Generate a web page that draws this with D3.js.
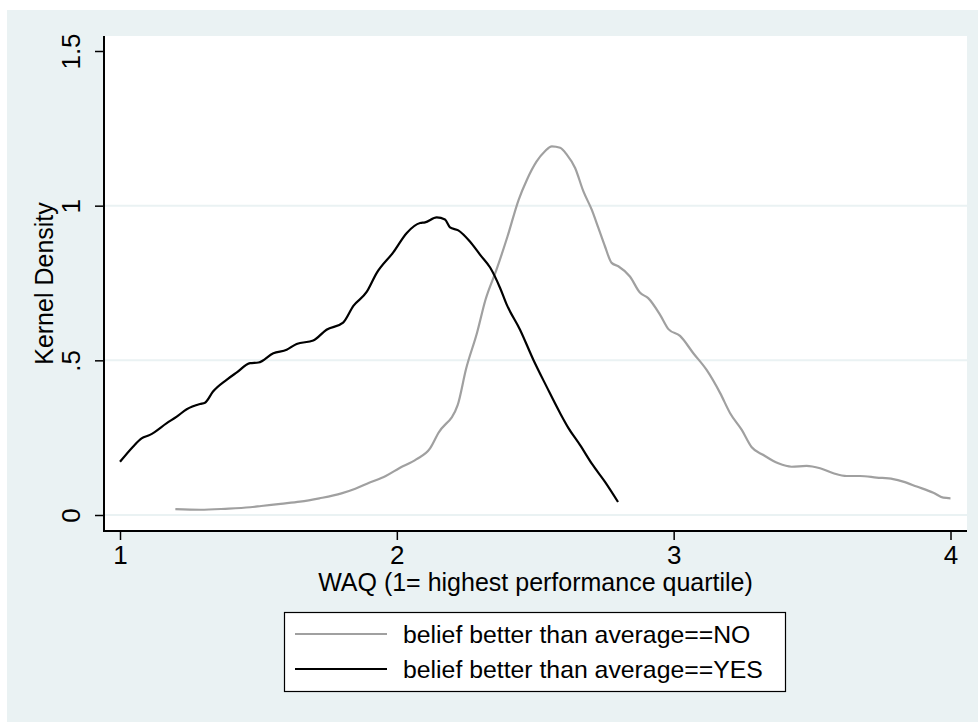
<!DOCTYPE html>
<html>
<head>
<meta charset="utf-8">
<script src="https://cdn.jsdelivr.net/npm/d3@7"></script>
<style>
  body { margin: 0; background: #fff; }
  text { font-family: Arial, "Liberation Sans", Helvetica, sans-serif; fill: #000; }
</style>
</head>
<body>
<svg id="chart" width="978" height="722"></svg>
<script>
// kernel density, belief better than average == NO (gray)
var noX = [1.20, 1.29, 1.38, 1.47, 1.51, 1.58, 1.65, 1.72, 1.80, 1.85, 1.90, 1.96, 2.01, 2.07, 2.12, 2.15, 2.22,
  2.25, 2.29, 2.32, 2.36, 2.40, 2.44, 2.47, 2.505, 2.535, 2.56, 2.59, 2.614, 2.644, 2.674, 2.704, 2.728, 2.752,
  2.776, 2.80, 2.842, 2.878, 2.908, 2.951, 2.981, 3.023, 3.071, 3.119, 3.168, 3.204, 3.246, 3.282, 3.324, 3.378,
  3.426, 3.48, 3.529, 3.577, 3.625, 3.673, 3.733, 3.793, 3.829, 3.878, 3.938, 3.974, 4.0];
var noY = [0.019, 0.017, 0.020, 0.025, 0.029, 0.036, 0.043, 0.054, 0.070, 0.085, 0.104, 0.126, 0.152, 0.180, 0.215, 0.265, 0.356,
  0.472, 0.590, 0.695, 0.793, 0.901, 1.019, 1.084, 1.143, 1.176, 1.192, 1.187, 1.165, 1.122, 1.046, 0.987, 0.928, 0.868,
  0.815, 0.804, 0.771, 0.719, 0.701, 0.647, 0.601, 0.579, 0.523, 0.469, 0.394, 0.329, 0.275, 0.219, 0.194, 0.167,
  0.156, 0.159, 0.151, 0.135, 0.126, 0.126, 0.121, 0.116, 0.108, 0.092, 0.072, 0.056, 0.054];

// kernel density, belief better than average == YES (black)
var yesX = [1.0, 1.047, 1.078, 1.108, 1.169, 1.205, 1.241, 1.289, 1.307, 1.336, 1.385, 1.422, 1.47, 1.50, 1.554,
  1.602, 1.638, 1.698, 1.746, 1.806, 1.843, 1.891, 1.927, 1.987, 2.036, 2.084, 2.102, 2.144, 2.174, 2.192, 2.222,
  2.264, 2.301, 2.337, 2.373, 2.397, 2.445, 2.493, 2.541, 2.59, 2.62, 2.662, 2.705, 2.752, 2.799];
var yesY = [0.172, 0.221, 0.248, 0.259, 0.297, 0.318, 0.342, 0.359, 0.363, 0.399, 0.437, 0.461, 0.491, 0.493, 0.523,
  0.534, 0.553, 0.564, 0.599, 0.622, 0.676, 0.721, 0.782, 0.849, 0.912, 0.944, 0.946, 0.962, 0.955, 0.930, 0.920,
  0.884, 0.841, 0.800, 0.734, 0.680, 0.599, 0.502, 0.415, 0.329, 0.281, 0.226, 0.165, 0.107, 0.042];

var xTicks = [1, 2, 3, 4];
var yTicks = [0, 0.5, 1, 1.5];
var yTickLabels = ["0", ".5", "1", "1.5"];
var gridValues = [0, 0.5, 1];

var seriesNames = ["belief better than average==NO", "belief better than average==YES"];
var seriesColors = ["#a0a0a0", "#000000"];

var svg = d3.select("#chart");
var bg = "#eaf2f3";

// plot region bounds
var plotLeft = 104, plotRight = 967, plotTop = 36, plotBottom = 531;

var x = d3.scaleLinear().domain([1, 4]).range([120, 950.5]);
var y = d3.scaleLinear().domain([0, 1.5]).range([515, 51]);

svg.append("rect")
  .attr("x", 7).attr("y", 10)
  .attr("width", 971).attr("height", 712)
  .attr("fill", bg);

svg.append("rect")
  .attr("x", plotLeft).attr("y", plotTop)
  .attr("width", plotRight - plotLeft).attr("height", plotBottom - plotTop)
  .attr("fill", "#fff");

// grid lines
svg.selectAll("line.grid")
  .data(gridValues)
  .enter()
  .append("line")
  .attr("class", "grid")
  .attr("x1", plotLeft).attr("x2", plotRight)
  .attr("y1", function(d) { return y(d); })
  .attr("y2", function(d) { return y(d); })
  .attr("stroke", bg)
  .attr("stroke-width", 2);

// curves
var line = d3.line()
  .curve(d3.curveMonotoneX)
  .x(function(d) { return x(d[0]); })
  .y(function(d) { return y(d[1]); });

var noData = noX.map(function(v, i) { return [v, noY[i]]; });
var yesData = yesX.map(function(v, i) { return [v, yesY[i]]; });

svg.append("path")
  .datum(noData)
  .attr("d", line)
  .attr("fill", "none")
  .attr("stroke", seriesColors[0])
  .attr("stroke-width", 2.2)
  .attr("stroke-linejoin", "round");

svg.append("path")
  .datum(yesData)
  .attr("d", line)
  .attr("fill", "none")
  .attr("stroke", seriesColors[1])
  .attr("stroke-width", 2.2)
  .attr("stroke-linejoin", "round");

// axes
var yAxis = d3.axisLeft(y)
  .tickValues(yTicks)
  .tickSize(9)
  .tickFormat(function(d, i) { return yTickLabels[i]; });

var gy = svg.append("g")
  .attr("transform", "translate(" + plotLeft + ",0)")
  .call(yAxis);
gy.select(".domain").remove();
gy.selectAll(".tick line").attr("stroke", "#000").attr("stroke-width", 1.5);
gy.selectAll(".tick text")
  .attr("x", null).attr("dy", null)
  .attr("transform", "translate(-24,0) rotate(-90)")
  .attr("text-anchor", "middle")
  .style("font-size", "26px")
  .style("font-family", "Arial, 'Liberation Sans', sans-serif");

var xAxis = d3.axisBottom(x)
  .tickValues(xTicks)
  .tickSize(9)
  .tickFormat(d3.format("d"));

var gx = svg.append("g")
  .attr("transform", "translate(0," + plotBottom + ")")
  .call(xAxis);
gx.select(".domain").remove();
gx.selectAll(".tick line").attr("stroke", "#000").attr("stroke-width", 1.5);
gx.selectAll(".tick text")
  .attr("dy", null)
  .attr("y", 33)
  .style("font-size", "26px")
  .style("font-family", "Arial, 'Liberation Sans', sans-serif");

svg.append("line")
  .attr("x1", plotLeft).attr("x2", plotLeft)
  .attr("y1", plotTop).attr("y2", plotBottom + 1)
  .attr("stroke", "#000").attr("stroke-width", 2);
svg.append("line")
  .attr("x1", plotLeft - 1).attr("x2", plotRight)
  .attr("y1", plotBottom).attr("y2", plotBottom)
  .attr("stroke", "#000").attr("stroke-width", 2);

// axis titles
svg.append("text")
  .attr("x", (plotLeft + plotRight) / 2)
  .attr("y", 591)
  .attr("text-anchor", "middle")
  .style("font-size", "25px")
  .text("WAQ (1= highest performance quartile)");

svg.append("text")
  .attr("transform", "translate(53," + ((plotTop + plotBottom) / 2) + ") rotate(-90)")
  .attr("text-anchor", "middle")
  .style("font-size", "25px")
  .text("Kernel Density");

// legend
var legend = svg.append("g");
legend.append("rect")
  .attr("x", 284.5).attr("y", 612.5)
  .attr("width", 501).attr("height", 79)
  .attr("fill", "#fff")
  .attr("stroke", "#000")
  .attr("stroke-width", 1.2);

var items = legend.selectAll("g.item")
  .data(seriesNames)
  .enter()
  .append("g")
  .attr("class", "item")
  .attr("transform", function(d, i) { return "translate(0," + (634 + i * 35) + ")"; });

items.append("line")
  .attr("x1", 295).attr("x2", 387)
  .attr("y1", 0).attr("y2", 0)
  .attr("stroke", function(d, i) { return seriesColors[i]; })
  .attr("stroke-width", 2.2);

items.append("text")
  .attr("x", 403)
  .attr("y", 9)
  .style("font-size", "24.8px")
  .text(function(d) { return d; });
</script>
</body>
</html>
